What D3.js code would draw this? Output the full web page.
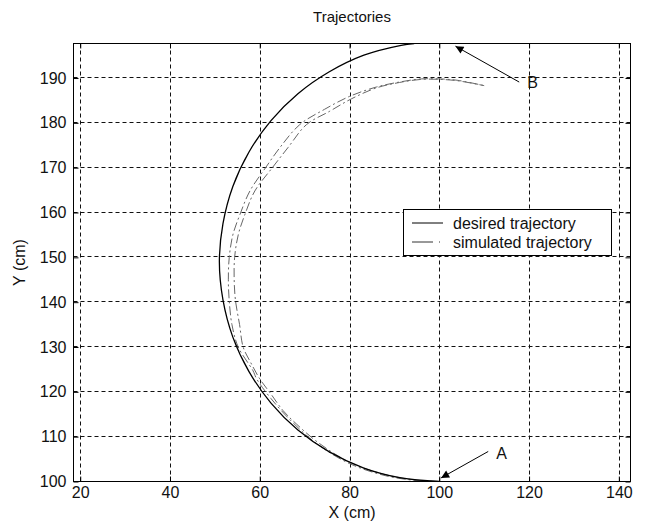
<!DOCTYPE html>
<html>
<head>
<meta charset="utf-8">
<script src="https://cdn.jsdelivr.net/npm/d3@7"></script>
<style>
  html, body { margin: 0; padding: 0; background: #fff; }
  svg { display: block; }
  text { font-family: "Liberation Sans", Arial, Helvetica, sans-serif; fill: #111; }
</style>
</head>
<body>
<svg id="chart" width="648" height="527"></svg>
<script>
// Desired trajectory (cm): from A at the bottom, round the left side, up to B
const desiredX = [100, 91.5, 83.2, 75.5, 68.5, 62.5, 57.6, 54.0, 51.8, 51.0, 51.8, 54.0, 57.6, 62.5, 68.5, 75.5, 83.2, 91.5, 94.4];
const desiredY = [100, 100.8, 103.0, 106.6, 111.5, 117.5, 124.5, 132.2, 140.5, 149.0, 157.5, 165.8, 173.5, 180.5, 186.5, 191.4, 195.1, 197.3, 197.7];

// Simulated trajectory (cm), outer pass
const simOuterX = [100, 95, 88, 80, 73, 67.5, 62.5, 59.3, 58.5, 55.2, 53.8, 53.2, 53.0, 53.2, 54.0, 55.6, 57.8, 61.3, 64.5, 68.9, 74.4, 80.0, 86, 91.1, 96, 100, 104, 110];
const simOuterY = [100, 100.2, 101.3, 104.0, 108.2, 113.0, 118.5, 122.9, 124.7, 130.0, 135.0, 140.3, 145, 150, 155, 159.6, 164.8, 170.0, 174.5, 179.6, 183.0, 185.9, 188.0, 189.1, 189.8, 189.8, 189.5, 188.3];

// Simulated trajectory (cm), inner pass
const simInnerX = [100, 95, 88, 80, 73, 68.2, 65.2, 62.5, 60.0, 58.0, 56.3, 55.5, 54.6, 54.3, 54.4, 55.2, 56.7, 58.9, 62.8, 66.3, 70.4, 75.6, 80.5, 86, 91.1, 96, 100, 104, 110];
const simInnerY = [100, 100.3, 101.5, 104.3, 108.7, 112.8, 115.8, 119.5, 122.9, 126.5, 130.0, 135.0, 140.3, 145, 150, 155, 159.6, 164.8, 170.0, 174.5, 179.6, 182.6, 185.4, 187.8, 189.0, 189.7, 189.7, 189.4, 188.3];

// Axis ticks
const xTicks = [20, 40, 60, 80, 100, 120, 140];
const yTicks = [100, 110, 120, 130, 140, 150, 160, 170, 180, 190];

// Point labels with arrows (data coordinates)
const notes = [
  { label: "A", tx: 112.7, ty: 105.1, x1: 110.9, y1: 106.7, x2: 100.4, y2: 100.8 },
  { label: "B", tx: 119.6, ty: 187.7, x1: 117.8, y1: 189.1, x2: 103.6, y2: 197.1 }
];

const legendItems = ["desired trajectory", "simulated trajectory"];

const svg = d3.select("#chart");
const L = 73.5, R = 630.5, T = 43.5, B = 481.5;

const x = d3.scaleLinear().domain([18.5, 142.6]).range([L, R]);
const y = d3.scaleLinear().domain([100, 197.7]).range([B, T]);

const zip = (xs, ys) => xs.map((v, i) => [v, ys[i]]);

svg.append("defs").append("clipPath").attr("id", "plotClip")
  .append("rect").attr("x", L).attr("y", T).attr("width", R - L).attr("height", B - T);

// Dashed grid at every tick
const grid = svg.append("g").attr("stroke", "#111").attr("stroke-width", 1).attr("stroke-dasharray", "4,3");
grid.selectAll("line.gx").data(xTicks).join("line").attr("class", "gx")
  .attr("x1", d => Math.round(x(d)) + 0.5).attr("x2", d => Math.round(x(d)) + 0.5)
  .attr("y1", T).attr("y2", B);
grid.selectAll("line.gy").data(yTicks).join("line").attr("class", "gy")
  .attr("y1", d => Math.round(y(d)) - 0.5).attr("y2", d => Math.round(y(d)) - 0.5)
  .attr("x1", L).attr("x2", R);

// Trajectories
const line = d3.line().x(d => x(d[0])).y(d => y(d[1])).curve(d3.curveCatmullRom);
const curves = svg.append("g").attr("clip-path", "url(#plotClip)").attr("fill", "none");

[zip(simOuterX, simOuterY), zip(simInnerX, simInnerY)].forEach(pts => {
  curves.append("path").datum(pts).attr("d", line)
    .attr("stroke", "#666").attr("stroke-width", 1)
    .attr("stroke-dasharray", "9,3,2,3");
});
curves.append("path").datum(zip(desiredX, desiredY)).attr("d", line)
  .attr("stroke", "#000").attr("stroke-width", 1.3);

// Axes box with inward ticks on all sides
const axG = svg.append("g");
const axBottom = d3.axisBottom(x).tickValues(xTicks).tickSizeInner(-5).tickSizeOuter(0).tickPadding(5);
const axLeft = d3.axisLeft(y).tickValues(yTicks).tickSizeInner(-5).tickSizeOuter(0).tickPadding(7);
const axTop = d3.axisTop(x).tickValues(xTicks).tickSizeInner(-5).tickSizeOuter(0).tickFormat("");
const axRight = d3.axisRight(y).tickValues(yTicks).tickSizeInner(-5).tickSizeOuter(0).tickFormat("");

axG.append("g").attr("transform", `translate(0,${B})`).call(axBottom);
axG.append("g").attr("transform", `translate(${L},0)`).call(axLeft);
axG.append("g").attr("transform", `translate(0,${T})`).call(axTop);
axG.append("g").attr("transform", `translate(${R},0)`).call(axRight);
axG.selectAll(".domain").remove();
axG.selectAll(".tick line").attr("stroke", "#000");
axG.selectAll(".tick text").attr("font-size", 16).attr("fill", "#111")
  .style("font-family", '"Liberation Sans", Arial, sans-serif');

svg.append("rect").attr("x", L).attr("y", T).attr("width", R - L).attr("height", B - T)
  .attr("fill", "none").attr("stroke", "#000").attr("stroke-width", 1);

// Titles
svg.append("text").attr("x", (L + R) / 2).attr("y", 22).attr("text-anchor", "middle")
  .attr("font-size", 15).text("Trajectories");
svg.append("text").attr("x", (L + R) / 2).attr("y", 518).attr("text-anchor", "middle")
  .attr("font-size", 16).text("X (cm)");
svg.append("text").attr("transform", `translate(25,${(T + B) / 2}) rotate(-90)`)
  .attr("text-anchor", "middle").attr("font-size", 16).text("Y (cm)");

// Arrow annotations
svg.append("defs").append("marker").attr("id", "arrowHead")
  .attr("viewBox", "0 0 10 10").attr("refX", 10).attr("refY", 5)
  .attr("markerWidth", 10).attr("markerHeight", 8).attr("markerUnits", "userSpaceOnUse")
  .attr("orient", "auto")
  .append("path").attr("d", "M0,0 L10,5 L0,10 Z").attr("fill", "#000");

const ann = svg.append("g");
notes.forEach(n => {
  ann.append("line")
    .attr("x1", x(n.x1)).attr("y1", y(n.y1)).attr("x2", x(n.x2)).attr("y2", y(n.y2))
    .attr("stroke", "#000").attr("stroke-width", 1).attr("marker-end", "url(#arrowHead)");
  ann.append("text").attr("x", x(n.tx)).attr("y", y(n.ty)).attr("font-size", 16).text(n.label);
});

// Legend
const lg = svg.append("g");
lg.append("rect").attr("x", 403.5).attr("y", 209.5).attr("width", 208).attr("height", 46)
  .attr("fill", "#fff").attr("stroke", "#000").attr("stroke-width", 1);
legendItems.forEach((name, i) => {
  const ly = 223 + i * 19;
  lg.append("line").attr("x1", 412).attr("x2", i === 0 ? 443 : 441).attr("y1", ly).attr("y2", ly)
    .attr("stroke", i === 0 ? "#000" : "#333").attr("stroke-width", 1)
    .attr("stroke-dasharray", i === 0 ? null : "21,6,1,6");
  lg.append("text").attr("x", 453).attr("y", ly + 5.5).attr("font-size", 16).text(name);
});
</script>
</body>
</html>
